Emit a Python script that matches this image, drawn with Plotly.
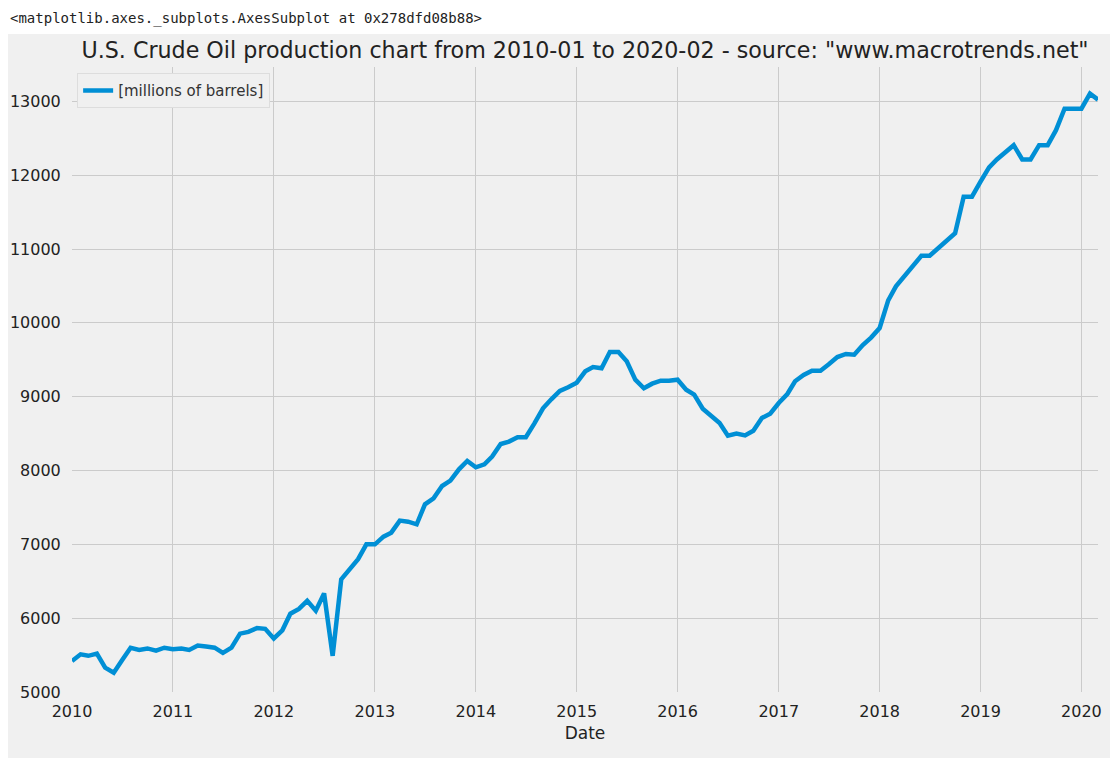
import pandas as pd
import plotly.graph_objects as go

# Produção mensal de petróleo dos EUA
production = [
    5420, 5510, 5490, 5520, 5330, 5260, 5430, 5600, 5570, 5590, 5560, 5600,        # 2010
    5580, 5590, 5570, 5630, 5615, 5600, 5530, 5600, 5790, 5815, 5865, 5855,        # 2011
    5725, 5835, 6060, 6125, 6235, 6100, 6335, 5490, 6525, 6660, 6800, 7000,        # 2012
    7000, 7104, 7158, 7321, 7307, 7271, 7542, 7623, 7790, 7862, 8016, 8129,        # 2013
    8043, 8084, 8188, 8359, 8391, 8450, 8450, 8639, 8842, 8964, 9077, 9127,        # 2014
    9190, 9343, 9402, 9384, 9605, 9605, 9479, 9230, 9113, 9176, 9217, 9217,        # 2015
    9230, 9095, 9027, 8837, 8743, 8643, 8472, 8499, 8476, 8539, 8711, 8770,        # 2016
    8914, 9036, 9208, 9293, 9352, 9352, 9438, 9537, 9578, 9569, 9700, 9800,        # 2017
    9930, 10305, 10494, 10629, 10773, 10908, 10908, 11011, 11115, 11214, 11709, 11709,  # 2018
    11911, 12105, 12213, 12316, 12406, 12213, 12213, 12406, 12406, 12609, 12901, 12901,  # 2019
    12901, 13104, 13023,                                                          # 2020
]
start_month = "2010-01-01"
dates = pd.date_range(start_month, periods=len(production), freq="MS")

series_name = "[millions of barrels]"
title_text = 'U.S. Crude Oil production chart from 2010-01 to 2020-02 - source: "www.macrotrends.net"'
repr_text = "<matplotlib.axes._subplots.AxesSubplot at 0x278dfd08b88>"

fig = go.Figure()
fig.add_trace(go.Scatter(
    x=dates,
    y=production,
    mode="lines",
    name=series_name,
    line=dict(color="#008fd5", width=4.5),
))

# fundo cinza da figura (estilo fivethirtyeight), com faixa branca no topo
fig.add_shape(type="rect", xref="paper", yref="paper",
              x0=-0.0682, x1=1.0146, y0=-0.1056, y1=1.0528,
              fillcolor="#f0f0f0", line=dict(width=0), layer="below")

fig.add_annotation(text=repr_text, xref="paper", yref="paper",
                   x=-0.0624, y=1.0944, xanchor="left", yanchor="top",
                   showarrow=False,
                   font=dict(family="DejaVu Sans Mono", size=14, color="#222222"))

# a página tem margem de 8px, por isso a figura é um pouco menor que a janela
fig.update_layout(
    width=1110, height=753,
    margin=dict(l=64, r=20, t=59, b=69),
    paper_bgcolor="white",
    plot_bgcolor="#f0f0f0",
    font=dict(family="DejaVu Sans", color="#222222"),
    title=dict(text=title_text, x=0.5, xanchor="center", xref="paper",
               y=1.0, yref="paper", yanchor="bottom", pad=dict(b=9),
               font=dict(size=22.2, color="#222222")),
    showlegend=True,
    legend=dict(x=0.005, y=0.99, xanchor="left", yanchor="top",
                bgcolor="#f0f0f0", bordercolor="#dddddd", borderwidth=1,
                font=dict(size=15, color="#333333")),
    xaxis=dict(
        range=[dates[0], dates[-1]],
        tickformat="%Y", dtick="M12", tick0=start_month,
        showgrid=True, gridcolor="#cbcbcb", gridwidth=1,
        zeroline=False, showline=False, automargin=False,
        ticks="outside", ticklen=5, tickcolor="rgba(0,0,0,0)",
        tickfont=dict(size=16),
        title=dict(text="Date", font=dict(size=17), standoff=6),
    ),
    yaxis=dict(
        range=[5000, 13465],
        tickvals=[5000, 6000, 7000, 8000, 9000, 10000, 11000, 12000, 13000],
        tickformat="d", automargin=False,
        showgrid=True, gridcolor="#cbcbcb", gridwidth=1,
        zeroline=False, showline=False,
        ticks="outside", ticklen=7, tickcolor="rgba(0,0,0,0)",
        tickfont=dict(size=16),
    ),
)

fig.write_html("out.html")
